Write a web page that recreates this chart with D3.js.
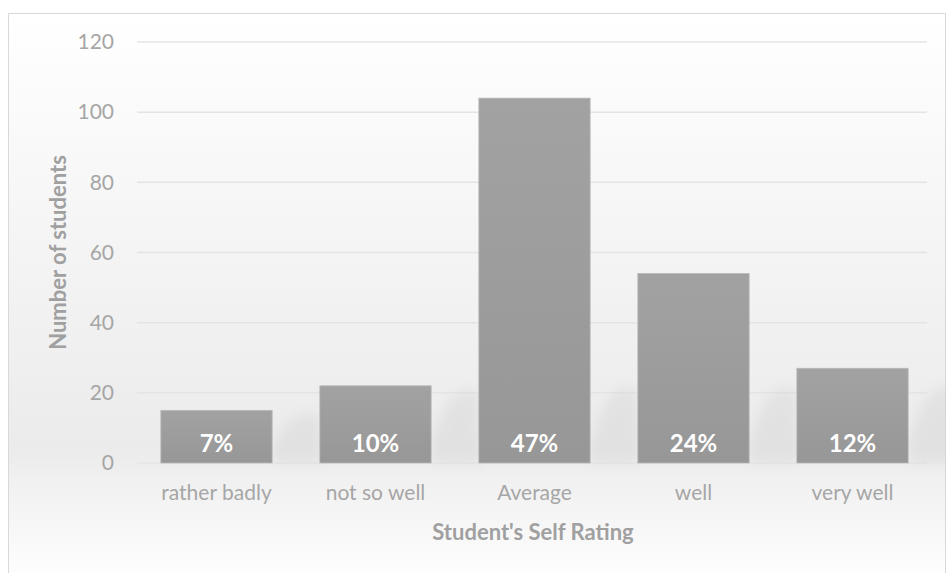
<!DOCTYPE html>
<html>
<head>
<meta charset="utf-8">
<script src="https://cdn.jsdelivr.net/npm/d3@7"></script>
<style>
  body { margin: 0; background: #fff; }
  svg { display: block; }
  .tick text { font-family: Lato, "Open Sans", sans-serif; }
</style>
</head>
<body>
<div class="chart"></div>
<script>
var categories = ["rather badly", "not so well", "Average", "well", "very well"];
var counts = [15, 22, 104, 54, 27];
var percentLabels = ["7%", "10%", "47%", "24%", "12%"];
var yTicks = [0, 20, 40, 60, 80, 100, 120];

var svgWidth = 946;
var svgHeight = 573;

var margin = { top: 42, right: 14, bottom: 110, left: 137 };
var width = svgWidth - margin.left - margin.right;
var height = svgHeight - margin.top - margin.bottom;

var svg = d3.select(".chart")
  .append("svg")
  .attr("width", svgWidth)
  .attr("height", svgHeight);

var defs = svg.append("defs");

// background gradient: white on top, grey near the baseline, fading back to white
var bg = defs.append("linearGradient")
  .attr("id", "bgGrad")
  .attr("x1", 0).attr("y1", 0).attr("x2", 0).attr("y2", 1);
bg.append("stop").attr("offset", "0%").attr("stop-color", "#ffffff");
bg.append("stop").attr("offset", "76%").attr("stop-color", "#ebebeb");
bg.append("stop").attr("offset", "82%").attr("stop-color", "#f1f1f1");
bg.append("stop").attr("offset", "100%").attr("stop-color", "#ffffff");

var barGrad = defs.append("linearGradient")
  .attr("id", "barGrad")
  .attr("x1", 0).attr("y1", 0).attr("x2", 0).attr("y2", 1);
barGrad.append("stop").attr("offset", "0%").attr("stop-color", "#a2a2a2");
barGrad.append("stop").attr("offset", "100%").attr("stop-color", "#979797");

defs.append("filter")
  .attr("id", "blur")
  .attr("x", "-50%").attr("y", "-50%").attr("width", "200%").attr("height", "200%")
  .append("feGaussianBlur")
  .attr("stdDeviation", 6);

svg.append("rect")
  .attr("x", 8.5).attr("y", 13.5)
  .attr("width", svgWidth - 9).attr("height", svgHeight)
  .attr("fill", "url(#bgGrad)")
  .attr("stroke", "#d9d9d9");

var chartGroup = svg.append("g")
  .attr("transform", `translate(${margin.left}, ${margin.top})`);

var xScale = d3.scaleBand()
  .domain(categories)
  .range([0, 795])
  .paddingInner(0.3)
  .paddingOuter(0.15);

var yScale = d3.scaleLinear()
  .domain([0, 120])
  .range([height, 0]);

// gridlines
chartGroup.append("g")
  .selectAll("line")
  .data(yTicks)
  .enter()
  .append("line")
  .attr("x1", 0)
  .attr("x2", width - 5)
  .attr("y1", d => yScale(d))
  .attr("y2", d => yScale(d))
  .attr("stroke", "#e4e4e4")
  .attr("stroke-width", 1.5);

// soft shadows behind the bars
chartGroup.append("g")
  .selectAll("path")
  .data(counts)
  .enter()
  .append("path")
  .attr("d", function (d, i) {
    var x0 = xScale(categories[i]) + xScale.bandwidth();
    var y0 = yScale(0);
    var h = Math.min(yScale(0) - yScale(d), 80);
    return `M${x0},${y0} L${x0},${y0 - h * 0.2} C${x0 + 15},${y0 - h} ${x0 + 35},${y0 - h} ${x0 + 48},${y0 - h * 0.9} L${x0 + 50},${y0} Z`;
  })
  .attr("fill", "#cfcfcf")
  .attr("opacity", 0.35)
  .attr("filter", "url(#blur)");

// bars
chartGroup.append("g")
  .selectAll("rect")
  .data(counts)
  .enter()
  .append("rect")
  .attr("x", (d, i) => xScale(categories[i]))
  .attr("y", d => yScale(d))
  .attr("width", xScale.bandwidth())
  .attr("height", d => yScale(0) - yScale(d))
  .attr("fill", "url(#barGrad)")
  .attr("stroke", "#b8b8b8")
  .attr("stroke-width", 0.8);

// percent labels inside bars
chartGroup.append("g")
  .selectAll("text")
  .data(percentLabels)
  .enter()
  .append("text")
  .attr("x", (d, i) => xScale(categories[i]) + xScale.bandwidth() / 2)
  .attr("y", yScale(0) - 11)
  .attr("text-anchor", "middle")
  .attr("fill", "#ffffff")
  .attr("font-family", "Lato, 'Open Sans', sans-serif")
  .attr("font-weight", "bold")
  .attr("font-size", 24)
  .text(d => d);

// axes
var leftAxis = d3.axisLeft(yScale).tickValues(yTicks).tickSize(0).tickPadding(23);
var yAxisG = chartGroup.append("g").call(leftAxis);
yAxisG.select(".domain").remove();
yAxisG.selectAll("text")
  .attr("fill", "#a6a6a6")
  .attr("font-size", 21);

var bottomAxis = d3.axisBottom(xScale).tickSize(0).tickPadding(22);
var xAxisG = chartGroup.append("g")
  .attr("transform", `translate(0, ${height})`)
  .call(bottomAxis);
xAxisG.select(".domain").remove();
xAxisG.selectAll("text")
  .attr("fill", "#a6a6a6")
  .attr("font-size", 21);

// axis titles
chartGroup.append("text")
  .attr("transform", "rotate(-90)")
  .attr("x", 0 - yScale(60))
  .attr("y", 0 - margin.left + 66)
  .attr("text-anchor", "middle")
  .attr("fill", "#a0a0a0")
  .attr("font-family", "Lato, 'Open Sans', sans-serif")
  .attr("font-weight", "bold")
  .attr("font-size", 22)
  .text("Number of students");

chartGroup.append("text")
  .attr("x", 533 - margin.left)
  .attr("y", height + 77)
  .attr("text-anchor", "middle")
  .attr("fill", "#a0a0a0")
  .attr("font-family", "Lato, 'Open Sans', sans-serif")
  .attr("font-weight", "bold")
  .attr("font-size", 22)
  .text("Student's Self Rating");
</script>
</body>
</html>
